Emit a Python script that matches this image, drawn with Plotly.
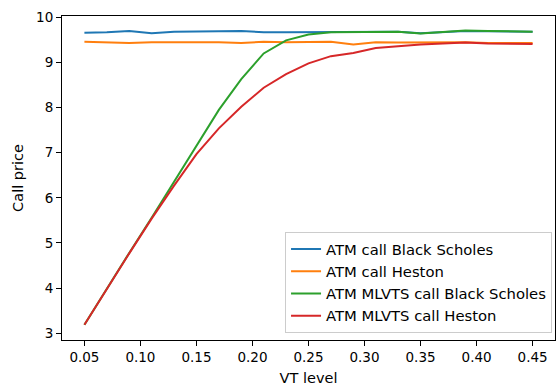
import plotly.graph_objects as go

vt_level = [0.05, 0.07, 0.09, 0.11, 0.13, 0.15, 0.17, 0.19, 0.21, 0.23, 0.25,
            0.27, 0.29, 0.31, 0.33, 0.35, 0.37, 0.39, 0.41, 0.43, 0.45]

atm_bs = [9.66, 9.67, 9.70, 9.65, 9.68, 9.68, 9.69, 9.70, 9.67, 9.67, 9.67,
          9.67, 9.67, 9.67, 9.68, 9.65, 9.67, 9.70, 9.69, 9.68, 9.68]
atm_heston = [9.46, 9.44, 9.43, 9.45, 9.45, 9.45, 9.45, 9.43, 9.46, 9.45, 9.46,
              9.46, 9.40, 9.45, 9.44, 9.44, 9.45, 9.45, 9.43, 9.43, 9.43]
mlvts_bs = [3.19, 4.00, 4.78, 5.56, 6.36, 7.15, 7.95, 8.63, 9.20, 9.49, 9.62,
            9.67, 9.67, 9.67, 9.68, 9.64, 9.67, 9.71, 9.70, 9.69, 9.68]
mlvts_heston = [3.19, 3.99, 4.77, 5.54, 6.27, 6.97, 7.54, 8.02, 8.44, 8.74, 8.98,
                9.14, 9.21, 9.32, 9.36, 9.40, 9.42, 9.44, 9.42, 9.42, 9.41]

names = ["ATM call Black Scholes", "ATM call Heston",
         "ATM MLVTS call Black Scholes", "ATM MLVTS call Heston"]
colors = ["#1f77b4", "#ff7f0e", "#2ca02c", "#d62728"]
series = [atm_bs, atm_heston, mlvts_bs, mlvts_heston]

FONT = "DejaVu Sans"
fig = go.Figure()
for i, (n, c, s) in enumerate(zip(names, colors, series)):
    fig.add_trace(go.Scatter(x=vt_level, y=s, mode="lines", name=n,
                             legendgroup=f"g{i}",
                             line=dict(color=c, width=2)))

axis_common = dict(showgrid=False, zeroline=False, showline=True, linecolor="#000",
                   linewidth=1, mirror=True, ticks="outside", ticklen=5, tickwidth=1,
                   tickcolor="#000", tickfont=dict(family=FONT, size=13.5, color="#000"))

fig.update_layout(
    width=556, height=386,
    margin=dict(l=62, r=1, t=16, b=46),
    paper_bgcolor="white", plot_bgcolor="white",
    font=dict(family=FONT, size=14.5, color="#000"),
    xaxis=dict(range=[0.03, 0.47], tickvals=[0.05, 0.10, 0.15, 0.20, 0.25, 0.30, 0.35, 0.40, 0.45],
               ticktext=["0.05", "0.10", "0.15", "0.20", "0.25", "0.30", "0.35", "0.40", "0.45"],
               title=dict(text="VT level", font=dict(family=FONT, size=14.5, color="#000"), standoff=9),
               **axis_common),
    yaxis=dict(range=[2.85, 10.03], tickvals=[3, 4, 5, 6, 7, 8, 9, 10],
               title=dict(text="Call price", font=dict(family=FONT, size=14.5, color="#000"), standoff=9),
               **axis_common),
    showlegend=True,
    legend=dict(x=0.994, y=0.022, xanchor="right", yanchor="bottom",
                bgcolor="rgba(255,255,255,0.8)", bordercolor="#cccccc", borderwidth=1,
                font=dict(family=FONT, size=14.8, color="#000"),
                tracegroupgap=0, itemwidth=30),
)

fig.write_html("out.html")
